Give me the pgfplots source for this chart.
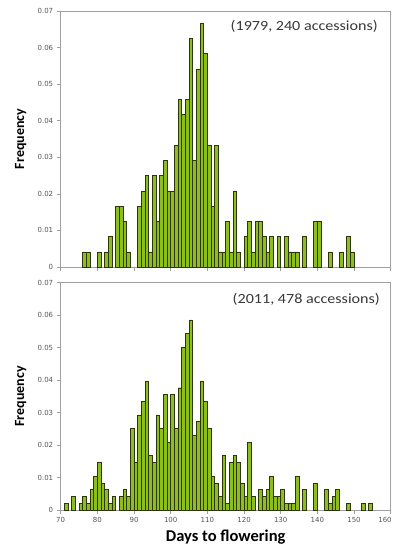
\documentclass[border=0pt]{standalone}
\usepackage{fontspec}
\setmainfont{Carlito}
\newfontfamily\dejavu{DejaVu Sans}
\newfontfamily\annfont[FakeStretch=1.15]{Carlito}
\usepackage{pgfplots}
\usepackage{pgfplotstable}
\pgfplotsset{compat=1.18}
\definecolor{bargreen}{RGB}{140,190,30}
\definecolor{baredge}{RGB}{45,55,10}
\definecolor{axgray}{RGB}{160,160,160}
\definecolor{tickgray}{RGB}{85,85,85}
\definecolor{anngray}{RGB}{55,55,55}

\pgfplotstableread{
x y
76.5 0.004167
77.5 0.004167
80.5 0.004167
82.5 0.004167
83.5 0.008333
85.5 0.016667
86.5 0.016667
87.5 0.0125
88.5 0.004167
91.5 0.016667
92.5 0.020833
93.5 0.025
94.5 0.004167
95.5 0.025
96.5 0.0125
97.5 0.025
98.5 0.029167
99.5 0.020833
100.5 0.020833
101.5 0.033333
102.5 0.045833
103.5 0.041667
104.5 0.045833
105.5 0.0625
106.5 0.029167
107.5 0.054167
108.5 0.066667
109.5 0.058333
110.5 0.033333
111.5 0.016667
112.5 0.033333
113.5 0.004167
114.5 0.004167
115.5 0.0125
116.5 0.004167
117.5 0.020833
118.5 0.004167
120.5 0.008333
121.5 0.0125
122.5 0.004167
123.5 0.0125
124.5 0.0125
125.5 0.008333
126.5 0.004167
127.5 0.008333
129.5 0.008333
131.5 0.008333
132.5 0.004167
133.5 0.004167
134.5 0.004167
136.5 0.008333
139.5 0.0125
140.5 0.0125
143.5 0.004167
146.5 0.004167
148.5 0.008333
149.5 0.004167
}\topdata

\pgfplotstableread{
x y
71.5 0.002092
73.5 0.004184
75.5 0.002092
76.5 0.004184
77.5 0.002092
78.5 0.006276
79.5 0.010460
80.5 0.014644
81.5 0.008368
82.5 0.006276
83.5 0.002092
84.5 0.004184
86.5 0.004184
87.5 0.006276
88.5 0.004184
89.5 0.025105
90.5 0.014644
91.5 0.029289
92.5 0.033473
93.5 0.039749
94.5 0.016736
95.5 0.014644
96.5 0.029289
97.5 0.025105
98.5 0.035565
99.5 0.020921
100.5 0.035565
101.5 0.025105
102.5 0.037657
103.5 0.050209
104.5 0.054393
105.5 0.058577
106.5 0.023013
107.5 0.027197
108.5 0.039749
109.5 0.033473
110.5 0.025105
111.5 0.010460
112.5 0.008368
113.5 0.004184
114.5 0.016736
115.5 0.002092
116.5 0.014644
117.5 0.016736
118.5 0.014644
119.5 0.008368
120.5 0.004184
121.5 0.020921
122.5 0.004184
124.5 0.006276
125.5 0.004184
126.5 0.006276
127.5 0.010460
128.5 0.004184
129.5 0.004184
130.5 0.006276
131.5 0.002092
132.5 0.002092
133.5 0.002092
134.5 0.010460
136.5 0.006276
139.5 0.008368
142.5 0.006276
143.5 0.002092
144.5 0.004184
145.5 0.006276
148.5 0.002092
152.5 0.002092
154.5 0.002092
}\botdata

\pgfplotsset{
  hist/.style={
    scale only axis, width=330pt,
    xmin=70, xmax=160, ymin=0, ymax=0.07,
    xtick={70,80,90,100,110,120,130,140,150,160},
    ytick={0,0.01,0.02,0.03,0.04,0.05,0.06,0.07},
    scaled y ticks=false,
    yticklabel style={/pgf/number format/fixed,/pgf/number format/precision=2},
    /pgf/number format/assume math mode=true,
    ticklabel style={font=\dejavu\fontsize{7}{8}\selectfont, text=tickgray},
    tick align=outside, xtick pos=left, ytick pos=left,
    major tick length=4pt,
    tick style={axgray, line width=0.6pt},
    axis line style={axgray, line width=0.6pt},
    ylabel={Frequency},
    every axis y label/.style={at={(axis description cs:-0.1212,0.5)}, rotate=90, anchor=center, font=\bfseries\fontsize{14}{16}\selectfont},
  },
  bars/.style={ybar, bar width=1, fill=bargreen, draw=baredge, line width=0.4pt},
}

\begin{document}
\begin{tikzpicture}
\begin{axis}[hist, height=256pt, at={(60.7pt,-267pt)}, anchor=south west,
  xticklabels={}]
  \addplot[bars] table[x=x,y=y] {\topdata};
  \node[anchor=north east, inner sep=0pt, text=anngray, font=\annfont\fontsize{14}{16}\selectfont]
    at (axis description cs:0.9615,0.965) {(1979, 240 accessions)};
\end{axis}
\begin{axis}[hist, height=227.3pt, at={(60.7pt,-510pt)}, anchor=south west,
  xticklabels={70,80,90,100,110,120,130,140,150,\llap{160\kern-1pt}},
  xlabel={Days to flowering},
  every axis x label/.style={at={(axis description cs:0.5,-0.1364)}, anchor=base, font=\bfseries\fontsize{16.5}{18}\selectfont}]
  \addplot[bars] table[x=x,y=y] {\botdata};
  \node[anchor=north east, inner sep=0pt, text=anngray, font=\annfont\fontsize{14}{16}\selectfont]
    at (axis description cs:0.9676,0.956) {(2011, 478 accessions)};
\end{axis}
\pgfresetboundingbox
\useasboundingbox (0,0) rectangle (395pt,-546pt);
\end{tikzpicture}
\end{document}
